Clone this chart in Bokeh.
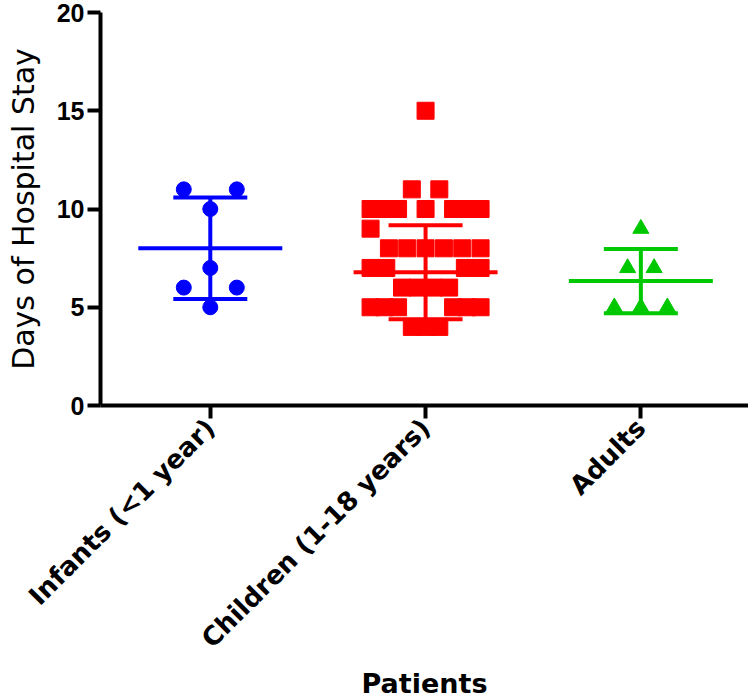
from math import pi
from bokeh.plotting import figure
from bokeh.models import FixedTicker, Range1d, ColumnDataSource
from bokeh.embed import file_html
from bokeh.resources import INLINE

# ---------------- data ----------------
categories = ["Infants (<1 year)", "Children (1-18 years)", "Adults"]
infants = [11, 10, 11, 6, 7, 6, 5]
children = [15,
            10, 10, 10, 11, 10, 11, 10, 10, 10,
            9, 8, 8, 8, 8, 8, 8,
            7, 7, 6, 6, 6, 6, 7, 7,
            5, 5, 5, 4, 4, 4, 5, 5, 5]
adults = [9, 7, 7, 5, 5, 5]
means = [8.0, 6.78, 6.33]
sds = [2.58, 2.39, 1.63]
y_ticks = [0, 5, 10, 15, 20]

colors = ["#0000FF", "#FF0000", "#00C800"]
markers = ["circle", "square", "triangle"]
sizes = [15, 17, 16]

groups = [infants, children, adults]

# ---------------- layout constants ----------------
X0, X1 = 0.49, 3.5
FRAME_W, FRAME_H = 648, 393
PX = FRAME_W / (X1 - X0)          # pixels per category unit
MAX_GAP = 26.5 / PX
ROW_W = 110 / PX
MEAN_HALF = 72 / PX
CAP_HALF = 37 / PX


def swarm(vals):
    """Column-scatter offsets: values grouped in bins of two days, placed side by side."""
    bins = {}
    for i, v in enumerate(vals):
        bins.setdefault(v // 2, []).append(i)
    offs = [0.0] * len(vals)
    for idx in bins.values():
        n = len(idx)
        if n < 2:
            continue
        s = min(MAX_GAP, ROW_W / (n - 1))
        for k, i in enumerate(idx):
            offs[i] = (k - (n - 1) / 2) * s
    return offs


p = figure(frame_width=FRAME_W, frame_height=FRAME_H,
           x_range=Range1d(X0, X1), y_range=Range1d(0, 20),
           output_backend="svg", toolbar_location=None,
           min_border_left=100, min_border_right=0,
           min_border_top=12, min_border_bottom=293)

for gi, vals in enumerate(groups):
    xc = gi + 1
    offs = swarm(vals)
    src = ColumnDataSource(dict(x=[xc + o for o in offs], y=vals))
    p.scatter("x", "y", source=src, marker=markers[gi], size=sizes[gi],
              fill_color=colors[gi], line_color=colors[gi], line_width=1)

for gi in range(3):
    xc = gi + 1
    m, s = means[gi], sds[gi]
    c = colors[gi]
    p.segment(x0=[xc - MEAN_HALF], x1=[xc + MEAN_HALF], y0=[m], y1=[m],
              line_color=c, line_width=4)
    p.segment(x0=[xc], x1=[xc], y0=[m - s], y1=[m + s], line_color=c, line_width=4)
    p.segment(x0=[xc - CAP_HALF, xc - CAP_HALF], x1=[xc + CAP_HALF, xc + CAP_HALF],
              y0=[m - s, m + s], y1=[m - s, m + s], line_color=c, line_width=4)

# ---------------- axes styling ----------------
p.xgrid.visible = False
p.ygrid.visible = False
p.outline_line_color = None

p.xaxis.ticker = FixedTicker(ticks=[1, 2, 3])
p.xaxis.major_label_overrides = {1: categories[0], 2: categories[1], 3: categories[2]}
p.xaxis.major_label_orientation = pi / 4
p.xaxis.axis_label = "Patients"
p.xaxis.major_label_text_font = "DejaVu Sans"
p.xaxis.major_label_text_font_size = "26px"
p.xaxis.major_label_text_font_style = "bold"
p.xaxis.axis_label_text_font = "DejaVu Sans"
p.xaxis.axis_label_text_font_size = "27px"
p.xaxis.axis_label_text_font_style = "bold"
p.xaxis.axis_label_standoff = 1

p.yaxis.ticker = FixedTicker(ticks=y_ticks)
p.yaxis.axis_label = "Days of Hospital Stay"
p.yaxis.major_label_text_font = "Liberation Sans"
p.yaxis.major_label_text_font_size = "25px"
p.yaxis.major_label_text_font_style = "bold"
p.yaxis.major_label_standoff = 3
p.yaxis.axis_label_text_font = "DejaVu Sans"
p.yaxis.axis_label_text_font_size = "30px"
p.yaxis.axis_label_text_font_style = "normal"
p.yaxis.axis_label_standoff = 13

for ax in (p.xaxis[0], p.yaxis[0]):
    ax.axis_line_width = 4
    ax.axis_line_color = "black"
    ax.major_tick_line_width = 4
    ax.major_tick_line_color = "black"
    ax.major_tick_out = 13
    ax.major_tick_in = 0
    ax.minor_tick_line_color = None
    ax.major_label_text_color = "black"
    ax.axis_label_text_color = "black"

open("out.html", "w").write(file_html(p, INLINE))
